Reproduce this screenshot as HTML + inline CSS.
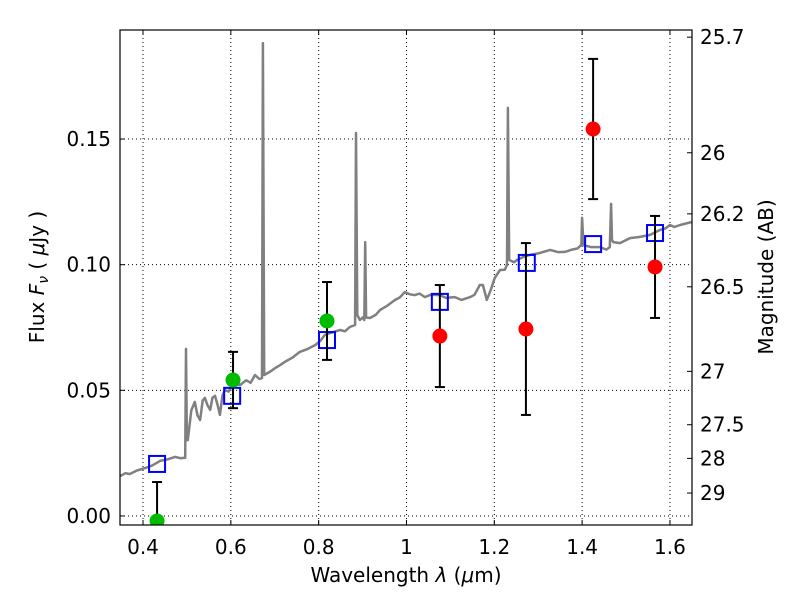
<!DOCTYPE html>
<html><head><meta charset="utf-8"><style>
body{margin:0;background:#fff;}
svg text{font-family:"DejaVu Sans","Liberation Sans",sans-serif;fill:#000;}
</style></head><body>
<svg id="chart" width="800" height="600"></svg>
<script>
const specWave=[0.348,0.360,0.370,0.385,0.405,0.420,0.439,0.455,0.473,0.485,0.493,0.496,0.498,0.500,0.502,0.510,0.518,0.524,0.530,0.536,0.541,0.547,0.553,0.558,0.564,0.570,0.575,0.581,0.587,0.595,0.603,0.612,0.621,0.635,0.645,0.655,0.665,0.671,0.673,0.676,0.690,0.701,0.712,0.723,0.740,0.757,0.775,0.792,0.803,0.814,0.830,0.849,0.860,0.871,0.883,0.885,0.888,0.894,0.900,0.904,0.906,0.908,0.917,0.930,0.940,0.955,0.974,0.985,0.996,1.008,1.019,1.030,1.042,1.055,1.076,1.090,1.110,1.125,1.145,1.155,1.167,1.174,1.183,1.192,1.201,1.213,1.224,1.229,1.231,1.234,1.245,1.252,1.265,1.281,1.300,1.327,1.345,1.361,1.377,1.390,1.398,1.400,1.403,1.420,1.441,1.455,1.463,1.466,1.468,1.471,1.486,1.497,1.509,1.530,1.554,1.577,1.590,1.600,1.610,1.623,1.650];
const specFlux=[0.0159,0.0170,0.0167,0.0180,0.0191,0.0200,0.0219,0.0225,0.0235,0.0230,0.0231,0.0231,0.0665,0.0302,0.0302,0.0420,0.0454,0.0400,0.0382,0.0460,0.0470,0.0440,0.0422,0.0470,0.0478,0.0440,0.0402,0.0480,0.0501,0.0495,0.0517,0.0525,0.0521,0.0540,0.0530,0.0561,0.0545,0.0549,0.1882,0.0561,0.0575,0.0589,0.0600,0.0613,0.0630,0.0653,0.0665,0.0680,0.0695,0.0720,0.0730,0.0740,0.0735,0.0752,0.0760,0.1524,0.0800,0.0780,0.0790,0.0780,0.1090,0.0790,0.0788,0.0800,0.0820,0.0835,0.0860,0.0870,0.0891,0.0882,0.0879,0.0885,0.0871,0.0880,0.0879,0.0868,0.0871,0.0860,0.0871,0.0880,0.0919,0.0919,0.0860,0.0900,0.0947,0.0979,0.0980,0.1000,0.1624,0.1019,0.1010,0.1019,0.1030,0.1039,0.1045,0.1059,0.1050,0.1051,0.1060,0.1065,0.1080,0.1186,0.1078,0.1070,0.1070,0.1060,0.1070,0.1242,0.1098,0.1090,0.1086,0.1095,0.1106,0.1110,0.1118,0.1138,0.1145,0.1158,0.1150,0.1158,0.1170];
const modelWave=[0.432,0.603,0.819,1.076,1.274,1.425,1.566];
const modelFlux=[0.0207,0.0478,0.0700,0.0852,0.1007,0.1082,0.1126];
const greenWave=[0.432,0.605,0.819];
const greenFlux=[-0.002,0.0541,0.0776];
const greenErr=[0.0155,0.0112,0.0155];
const redWave=[1.076,1.272,1.425,1.566];
const redFlux=[0.0716,0.0744,0.1540,0.0991];
const redErr=[0.0203,0.0342,0.0279,0.0203];
const xTicks=[0.4,0.6,0.8,1,1.2,1.4,1.6];
const yTicks=[0,0.05,0.10,0.15];
const yTickLabels=["0.00","0.05","0.10","0.15"];
const magTicks=[25.7,26,26.2,26.5,27,27.5,28,29];

const L=120,R=692,T=30,B=525,X0=0.3476,X1=1.6502,Y0=-0.0036,Y1=0.1934;
const sx=v=>L+(v-X0)/(X1-X0)*(R-L);
const sy=v=>B-(v-Y0)/(Y1-Y0)*(B-T);
const NS="http://www.w3.org/2000/svg";
const svg=document.getElementById('chart');
function mk(tag,attrs,parent){const e=document.createElementNS(NS,tag);for(const k in attrs)e.setAttribute(k,attrs[k]);(parent||svg).appendChild(e);return e;}
const defs=mk('defs',{});
const cp=mk('clipPath',{id:'plotclip'},defs);
mk('rect',{x:L,y:T,width:R-L,height:B-T},cp);
const grid=mk('g',{});


xTicks.forEach((t,i)=>{
  const x=sx(t);
  const gl=mk('line',{x1:x,x2:x,y1:T,y2:B,stroke:'#000','stroke-width':1,'stroke-dasharray':'1,3'},grid);
  
  
  mk('line',{x1:x,x2:x,y1:B,y2:B-5,stroke:'#000'});
  mk('line',{x1:x,x2:x,y1:T,y2:T+5,stroke:'#000'});
  const tx=mk('text',{x:x,y:B+29,'text-anchor':'middle','font-size':20});
  tx.textContent=String(t);
  
  
});
yTicks.forEach((t,i)=>{
  const y=sy(t);
  const gl=mk('line',{x1:L,x2:R,y1:y,y2:y,stroke:'#000','stroke-width':1,'stroke-dasharray':'1,3'},grid);
  
  
  mk('line',{x1:L,x2:L+5,y1:y,y2:y,stroke:'#000'});
  const tx=mk('text',{x:L-9,y:y+7,'text-anchor':'end','font-size':20});
  tx.textContent=yTickLabels[i];
  
  
});
magTicks.forEach(m=>{
  const y=sy(Math.pow(10,(23.9-m)/2.5));
  mk('line',{x1:R,x2:R-5,y1:y,y2:y,stroke:'#000'});
  const tx=mk('text',{x:R+8,y:y+7,'font-size':20});
  tx.textContent=String(m);
  
  
});
const plot=mk('g',{'clip-path':'url(#plotclip)'});


let d='';
specWave.forEach((w,i)=>{d+=(i?'L':'M')+sx(w).toFixed(1)+','+sy(specFlux[i]).toFixed(1);});
const sp=mk('path',{d:d,fill:'none',stroke:'#808080','stroke-width':2.5,'stroke-linejoin':'round'},plot);


function errbar(w,f,e,name){
  const x=sx(w),y1=sy(f+e),y2=sy(f-e);
  const g=mk('g',{stroke:'#000','stroke-width':2},plot);
  
  
  mk('line',{x1:x,x2:x,y1:y1,y2:y2},g);
  mk('line',{x1:x-5,x2:x+5,y1:y1,y2:y1},g);
  mk('line',{x1:x-5,x2:x+5,y1:y2,y2:y2},g);
}
modelWave.forEach((w,i)=>{
  const r=mk('rect',{x:sx(w)-8,y:sy(modelFlux[i])-8,width:16,height:16,fill:'none',stroke:'#0000ff','stroke-width':2},plot);
  
  
});
greenWave.forEach((w,i)=>{
  errbar(w,greenFlux[i],greenErr[i],'green-errorbar');
  const c=mk('circle',{cx:sx(w),cy:sy(greenFlux[i]),r:7.5,fill:'#00bb00'},plot);
  
  
});
redWave.forEach((w,i)=>{
  errbar(w,redFlux[i],redErr[i],'red-errorbar');
  const c=mk('circle',{cx:sx(w),cy:sy(redFlux[i]),r:7.5,fill:'#ff0000'},plot);
  
  
});
const frame=mk('rect',{x:L,y:T,width:R-L,height:B-T,fill:'none',stroke:'#000','stroke-width':1.2});


</script>
<svg width="800" height="600" style="position:absolute;left:0;top:0">
<text x="406" y="582" text-anchor="middle" font-size="20">Wavelength  <tspan font-style="italic">λ</tspan> (<tspan font-style="italic">μ</tspan>m)</text>
<text transform="translate(44,277) rotate(-90)" text-anchor="middle" font-size="20">Flux  <tspan font-style="italic">F</tspan><tspan font-style="italic" font-size="14" dy="4">ν</tspan><tspan dy="-4">  (  </tspan><tspan font-style="italic">μ</tspan>Jy )</text>
<text transform="translate(773,277) rotate(-90)" text-anchor="middle" font-size="20">Magnitude (AB)</text>
</svg>
</body></html>
